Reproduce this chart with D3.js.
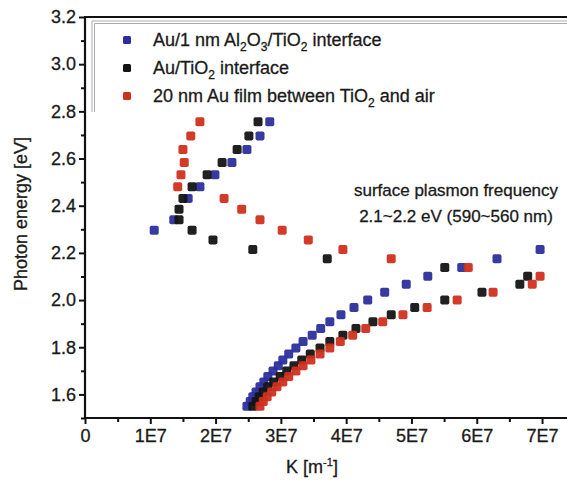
<!DOCTYPE html>
<html>
<head>
<meta charset="utf-8">
<script src="https://cdn.jsdelivr.net/npm/d3@7"></script>
<style>
  body { margin: 0; background: #fff; }
  text { font-family: "Liberation Sans", Arial, sans-serif; fill: #1a1a1a; stroke: #1a1a1a; stroke-width: 0.3px; }
</style>
</head>
<body>
<svg id="chart" width="567" height="483"></svg>
<script>
// photon energy [eV] of each measurement row (top to bottom)
const energy = [2.756, 2.696, 2.638, 2.583, 2.531, 2.480, 2.431, 2.385, 2.340, 2.296,
  2.255, 2.214, 2.175, 2.138, 2.101, 2.067, 2.033, 2.000, 1.968, 1.938,
  1.908, 1.879, 1.851, 1.824, 1.797, 1.771, 1.746, 1.722, 1.699, 1.676,
  1.653, 1.632, 1.610, 1.590, 1.570, 1.550];

// K in units of 1E7 m^-1, null = not shown
const kBlue = [2.83, 2.68, 2.48, 2.25, 1.99, 1.76, 1.58, null, 1.36, 1.06,
  null, 6.97, 6.31, 5.77, 5.25, 4.92, 4.59, 4.33, 4.12, 3.92,
  3.75, 3.61, 3.48, 3.34, 3.23, 3.12, 3.03, 2.96, 2.88, 2.80,
  2.74, 2.68, 2.62, 2.57, 2.53, 2.48];
const kBlack = [2.65, 2.51, 2.33, 2.10, 1.87, 1.64, 1.50, 1.44, 1.44, 1.64,
  1.96, 2.57, 3.71, 5.51, 6.78, 6.66, 6.08, 5.51, 5.05, 4.69,
  4.41, 4.15, 3.95, 3.75, 3.60, 3.45, 3.32, 3.20, 3.09, 2.99,
  2.89, 2.80, 2.73, 2.67, 2.62, 2.57];
const kRed = [1.76, 1.62, 1.50, 1.52, 1.47, 1.42, 2.13, 2.40, 2.68, 3.02,
  3.42, 3.95, 4.69, 5.87, 6.97, 6.85, 6.25, 5.70, 5.24, 4.87,
  4.56, 4.30, 4.10, 3.91, 3.75, 3.60, 3.46, 3.34, 3.23, 3.12,
  3.03, 2.94, 2.86, 2.79, 2.73, 2.68];

const seriesColors = ["#2b2f9c", "#141414", "#d0301f"];
const xTicks = [0, 1, 2, 3, 4, 5, 6, 7];
const yTicks = [1.6, 1.8, 2.0, 2.2, 2.4, 2.6, 2.8, 3.0, 3.2];

const svg = d3.select("#chart");

const x = d3.scaleLinear().domain([0, 7.275]).range([85, 560]);
const y = d3.scaleLinear().domain([1.5, 3.2]).range([418, 17]);

// axes
const xAxis = d3.axisBottom(x)
    .tickValues(xTicks)
    .tickFormat(d => d === 0 ? "0" : d + "E7")
    .tickSize(6).tickPadding(5);
const xMinor = d3.axisBottom(x)
    .tickValues(d3.range(0.5, 7.5, 1))
    .tickFormat("").tickSize(4);
const yAxis = d3.axisLeft(y)
    .tickValues(yTicks)
    .tickFormat(d3.format(".1f"))
    .tickSize(6).tickPadding(3);
const yMinor = d3.axisLeft(y)
    .tickValues([1.5, 1.7, 1.9, 2.1, 2.3, 2.5, 2.7, 2.9, 3.1])
    .tickFormat("").tickSize(4);

const gx = svg.append("g").attr("transform", "translate(0,418)");
gx.call(xAxis);
gx.append("g").call(xMinor);
const gy = svg.append("g").attr("transform", "translate(85,0)");
gy.call(yAxis);
gy.append("g").call(yMinor);

svg.selectAll(".domain").remove();
svg.selectAll(".tick line").attr("stroke", "#111").attr("stroke-width", 2);
svg.selectAll(".tick text").style("font-size", "18px").attr("fill", "#1a1a1a");

// frame lines
svg.append("line").attr("x1", 85).attr("x2", 85).attr("y1", 17).attr("y2", 419)
    .attr("stroke", "#111").attr("stroke-width", 2.2);
svg.append("line").attr("x1", 84).attr("x2", 567).attr("y1", 418).attr("y2", 418)
    .attr("stroke", "#111").attr("stroke-width", 2.2);
svg.append("line").attr("x1", 84).attr("x2", 567).attr("y1", 17).attr("y2", 17)
    .attr("stroke", "#111").attr("stroke-width", 2.2);

// legend box (double grey border)
[[92, 21], [94.5, 23.5]].forEach(([lx, ly]) => {
  svg.append("path")
      .attr("d", `M${lx},112V${ly}H567`)
      .attr("fill", "none").attr("stroke", "#a9a9b4").attr("stroke-width", 1);
});

// markers
const allK = [kBlue, kBlack, kRed];
allK.forEach((ks, si) => {
  const pts = energy.map((e, i) => ({ e: e, k: ks[i] })).filter(p => p.k !== null);
  svg.append("g").selectAll("rect")
      .data(pts)
      .enter()
      .append("rect")
      .attr("x", d => x(d.k) - 4.5)
      .attr("y", d => y(d.e) - 4.5)
      .attr("width", 9)
      .attr("height", 9)
      .attr("rx", 1.8)
      .attr("fill", seriesColors[si])
      .attr("fill-opacity", 0.95);
});

// legend entries
const legendY = [40, 68, 96];
seriesColors.forEach((c, i) => {
  svg.append("rect").attr("x", 123).attr("y", legendY[i] - 4).attr("width", 8).attr("height", 8)
      .attr("rx", 1.5).attr("fill", c);
});

function subText(sel, parts) {
  parts.forEach(p => {
    const t = sel.append("tspan").text(p[0]);
    if (p[1]) t.attr("dy", 5).style("font-size", "12px");
    else if (p[2]) t.attr("dy", -5);
  });
}
const legendParts = [
  [["Au/1 nm Al"], ["2", 1], ["O", 0, 1], ["3", 1], ["/TiO", 0, 1], ["2", 1], [" interface", 0, 1]],
  [["Au/TiO"], ["2", 1], [" interface", 0, 1]],
  [["20 nm Au film between TiO"], ["2", 1], [" and air", 0, 1]]
];
legendParts.forEach((parts, i) => {
  const t = svg.append("text").attr("x", 153).attr("y", legendY[i] + 6).style("font-size", "18px");
  subText(t, parts);
});

// annotation
svg.append("text").attr("x", 456).attr("y", 196).attr("text-anchor", "middle")
    .style("font-size", "17px").text("surface plasmon frequency");
svg.append("text").attr("x", 456).attr("y", 222).attr("text-anchor", "middle")
    .style("font-size", "17px").text("2.1~2.2 eV (590~560 nm)");

// axis titles
const xt = svg.append("text").attr("x", 312).attr("y", 473).attr("text-anchor", "middle")
    .style("font-size", "18px");
xt.append("tspan").text("K [m");
xt.append("tspan").attr("dy", -7).style("font-size", "11px").text("-1");
xt.append("tspan").attr("dy", 7).text("]");

svg.append("text")
    .attr("transform", "translate(27,214) rotate(-90)")
    .attr("text-anchor", "middle")
    .style("font-size", "18px")
    .text("Photon energy [eV]");
</script>
</body>
</html>
